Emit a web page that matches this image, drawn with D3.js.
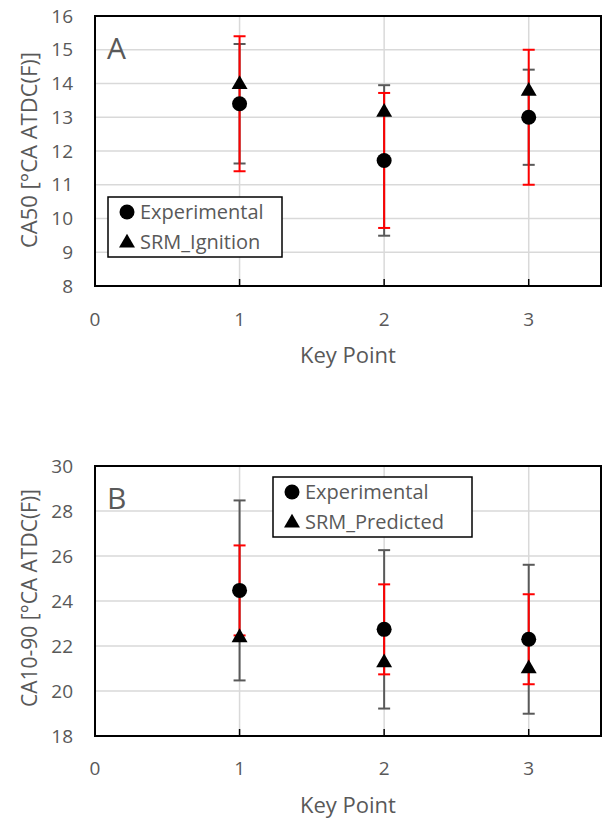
<!DOCTYPE html>
<html>
<head>
<meta charset="utf-8">
<script src="https://cdn.jsdelivr.net/npm/d3@7"></script>
<style>
  body { margin: 0; background: #fff; }
  text { font-family: "Open Sans", sans-serif; fill: #595959; }
</style>
</head>
<body>
<div id="chart"></div>
<script>
// key points on the x axis
const keyPoints = [1, 2, 3];
const xTicks = [0, 1, 2, 3];

// panel A: CA50
const ca50Exp = [13.4, 11.72, 13.0];
const ca50Srm = [14.0, 13.18, 13.8];
const ca50RedErr = [2.0, 2.0, 2.0];
const ca50GrayErr = [1.77, 2.23, 1.41];
const ca50Ticks = [8, 9, 10, 11, 12, 13, 14, 15, 16];

// panel B: CA10-90
const ca1090Exp = [24.47, 22.74, 22.3];
const ca1090Srm = [22.42, 21.3, 21.04];
const ca1090RedErr = [2.0, 2.0, 2.0];
const ca1090GrayErr = [4.0, 3.52, 3.31];
const ca1090Ticks = [18, 20, 22, 24, 26, 28, 30];

const svg = d3.select("#chart").append("svg")
    .attr("width", 604)
    .attr("height", 821);

svg.append("rect").attr("width", 604).attr("height", 821).attr("fill", "#fff");

/**
 * draws one panel
 */
function drawPanel(p) {
    let x = d3.scaleLinear().domain([0, 3.5]).range([95, 601]);
    let y = d3.scaleLinear().domain(p.yDomain).range([p.bottom, p.top]);
    let g = svg.append("g");

    // gridlines
    g.selectAll("line.hgrid")
     .data(p.yTicks)
     .join("line")
     .attr("class", "hgrid")
     .attr("x1", x(0)).attr("x2", x(3.5))
     .attr("y1", d => y(d)).attr("y2", d => y(d))
     .attr("stroke", "#d9d9d9").attr("stroke-width", 1.5);

    g.selectAll("line.vgrid")
     .data(keyPoints)
     .join("line")
     .attr("class", "vgrid")
     .attr("x1", d => x(d)).attr("x2", d => x(d))
     .attr("y1", p.top).attr("y2", p.bottom)
     .attr("stroke", "#d9d9d9").attr("stroke-width", 1.5);

    // y axis tick labels
    g.selectAll("text.ytick")
     .data(p.yTicks)
     .join("text")
     .attr("class", "ytick")
     .attr("x", 73)
     .attr("y", d => y(d))
     .attr("dy", "0.35em")
     .attr("text-anchor", "end")
     .style("font-size", "19px")
     .text(d => d);

    // x axis tick labels
    g.selectAll("text.xtick")
     .data(xTicks)
     .join("text")
     .attr("class", "xtick")
     .attr("x", d => x(d))
     .attr("y", p.bottom + p.xLabelOffset)
     .attr("dy", "0.35em")
     .attr("text-anchor", "middle")
     .style("font-size", "19px")
     .text(d => d);

    // x ticks (inside)
    g.selectAll("line.xt")
     .data(keyPoints)
     .join("line")
     .attr("class", "xt")
     .attr("x1", d => x(d)).attr("x2", d => x(d))
     .attr("y1", p.bottom).attr("y2", p.bottom - 7)
     .attr("stroke", "#000").attr("stroke-width", 1.5);

    // error bars, both centred on the experimental value
    let drawErr = (err, color) => {
        let eg = g.append("g").attr("stroke", color).attr("stroke-width", 2);
        keyPoints.forEach((k, i) => {
            let cx = x(k);
            let hi = y(p.exp[i] + err[i]);
            let lo = y(p.exp[i] - err[i]);
            eg.append("line").attr("x1", cx).attr("x2", cx).attr("y1", hi).attr("y2", lo);
            eg.append("line").attr("x1", cx - 6).attr("x2", cx + 6).attr("y1", hi).attr("y2", hi);
            eg.append("line").attr("x1", cx - 6).attr("x2", cx + 6).attr("y1", lo).attr("y2", lo);
        });
    };
    drawErr(p.grayErr, "#595959");
    drawErr(p.redErr, "#ff0000");

    // markers
    let tri = d3.symbol().type(d3.symbolTriangle).size(110);
    g.selectAll("path.srm")
     .data(p.srm)
     .join("path")
     .attr("class", "srm")
     .attr("d", tri)
     .attr("transform", (d, i) => `translate(${x(keyPoints[i])},${y(d) + 1})`)
     .attr("fill", "#000");

    g.selectAll("circle.exp")
     .data(p.exp)
     .join("circle")
     .attr("class", "exp")
     .attr("cx", (d, i) => x(keyPoints[i]))
     .attr("cy", d => y(d))
     .attr("r", 7.5)
     .attr("fill", "#000");

    // plot border
    g.append("rect")
     .attr("x", x(0)).attr("y", p.top)
     .attr("width", x(3.5) - x(0)).attr("height", p.bottom - p.top)
     .attr("fill", "none").attr("stroke", "#000").attr("stroke-width", 2);

    // panel letter
    g.append("text")
     .attr("x", 107).attr("y", p.top + 43)
     .style("font-size", "30px")
     .text(p.letter);

    // axis titles
    g.append("text")
     .attr("x", x(1.75)).attr("y", p.bottom + p.xTitleOffset)
     .attr("text-anchor", "middle")
     .style("font-size", "22px")
     .text("Key Point");

    g.append("text")
     .attr("transform", `translate(37,${p.yTitleCenter}) rotate(-90)`)
     .attr("text-anchor", "middle")
     .style("font-size", p.yTitleSize)
     .text(p.yTitle);

    // legend
    let lg = g.append("g").attr("transform", `translate(${p.legend[0]},${p.legend[1]})`);
    lg.append("rect")
      .attr("width", p.legend[2]).attr("height", 60)
      .attr("fill", "#fff").attr("stroke", "#000").attr("stroke-width", 1.5);
    lg.append("circle").attr("cx", 19).attr("cy", 15).attr("r", 7.5).attr("fill", "#000");
    lg.append("path").attr("d", tri).attr("transform", "translate(19,46)").attr("fill", "#000");
    lg.append("text").attr("x", 32).attr("y", 15).attr("dy", "0.35em")
      .style("font-size", "20px").text("Experimental");
    lg.append("text").attr("x", 32).attr("y", 45).attr("dy", "0.35em")
      .style("font-size", "20px").text(p.srmName);
}

drawPanel({
    top: 16, bottom: 286, yDomain: [8, 16], yTicks: ca50Ticks,
    exp: ca50Exp, srm: ca50Srm, redErr: ca50RedErr, grayErr: ca50GrayErr,
    letter: "A", yTitle: "CA50 [°CA ATDC(F)]", yTitleCenter: 150, yTitleSize: "22px",
    xLabelOffset: 33, xTitleOffset: 77,
    legend: [108, 197, 174], srmName: "SRM_Ignition"
});

drawPanel({
    top: 466, bottom: 736, yDomain: [18, 30], yTicks: ca1090Ticks,
    exp: ca1090Exp, srm: ca1090Srm, redErr: ca1090RedErr, grayErr: ca1090GrayErr,
    letter: "B", yTitle: "CA10-90 [°CA ATDC(F)]", yTitleCenter: 598, yTitleSize: "21px",
    xLabelOffset: 32, xTitleOffset: 77,
    legend: [273, 477, 199], srmName: "SRM_Predicted"
});
</script>
</body>
</html>
